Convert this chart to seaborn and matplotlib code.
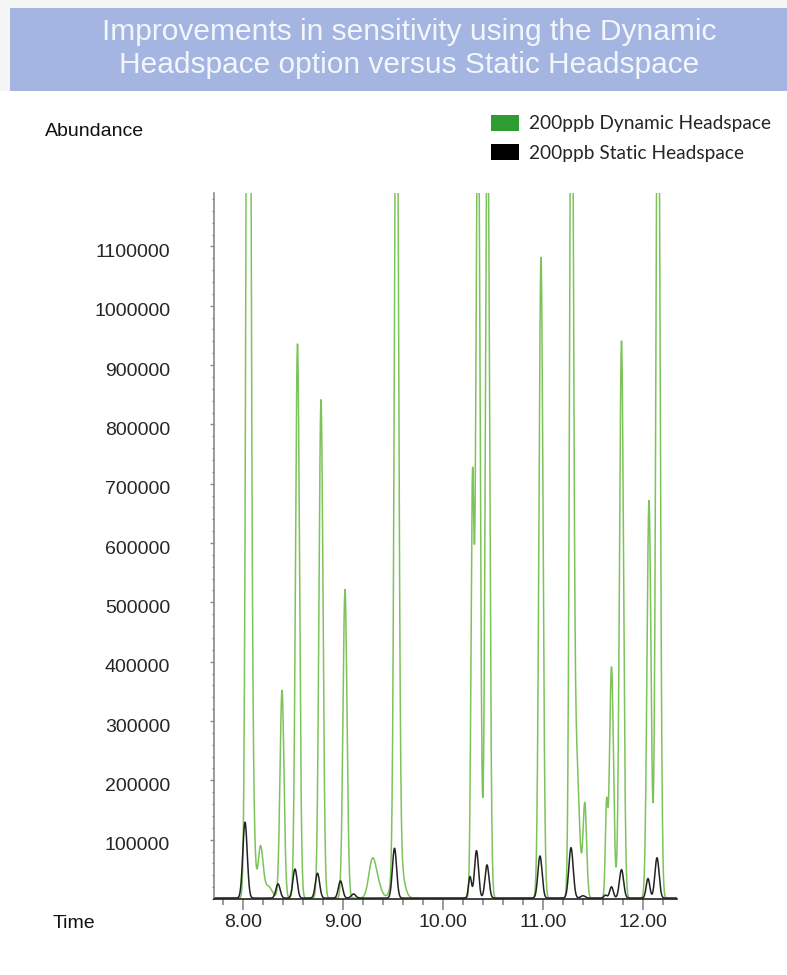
import numpy as np
import pandas as pd
import seaborn as sns
import matplotlib.pyplot as plt
from matplotlib.patches import Patch, Rectangle
from matplotlib.ticker import MultipleLocator, FixedLocator
from matplotlib.transforms import ScaledTranslation

# peak tables: retention time (min), abundance, peak sigma (min)
dyn_rt = [8.055, 8.10, 8.175, 8.25, 8.39, 8.545, 8.78, 9.02, 9.29, 9.34, 9.535, 9.55,
          10.295, 10.35, 10.445, 10.98, 11.285, 11.33, 11.418, 11.635, 11.685, 11.785,
          12.06, 12.15]
dyn_height = [2.4e6, 1.2e5, 8.5e4, 2.0e4, 3.5e5, 9.35e5, 8.4e5, 5.2e5, 5.5e4, 2.5e4, 1.55e6, 8.0e4,
              6.9e5, 1.45e6, 1.4e6, 1.08e6, 1.6e6, 2.5e5, 1.58e5, 1.5e5, 3.9e5, 9.4e5,
              6.7e5, 1.6e6]
dyn_sigma = [0.021, 0.02, 0.025, 0.04, 0.02, 0.02, 0.02, 0.02, 0.035, 0.04, 0.02, 0.045,
             0.015, 0.02, 0.02, 0.02, 0.018, 0.03, 0.018, 0.012, 0.02, 0.02,
             0.02, 0.02]

sta_rt = [8.02, 8.35, 8.52, 8.745, 8.975, 9.105, 9.515, 10.27, 10.335, 10.44, 10.97,
          11.28, 11.40, 11.625, 11.685, 11.785, 12.05, 12.14]
sta_height = [1.28e5, 2.4e4, 4.9e4, 4.2e4, 2.9e4, 7e3, 8.4e4, 3.6e4, 8.0e4, 5.6e4, 7.1e4,
              8.5e4, 4e3, 5e3, 1.9e4, 4.8e4, 3.3e4, 6.8e4]
sta_sigma = [0.022, 0.021, 0.021, 0.021, 0.021, 0.022, 0.021, 0.015, 0.02, 0.02, 0.021,
             0.022, 0.022, 0.016, 0.018, 0.021, 0.018, 0.021]

baseline = 1500
series = ['200ppb Dynamic Headspace', '200ppb Static Headspace']
colors = ['#7cc35a', '#222222']
legend_colors = ['#2e9b33', '#000000']

xticks = [8, 9, 10, 11, 12]
xtick_labels = ['8.00', '9.00', '10.00', '11.00', '12.00']
yticks = [100000, 200000, 300000, 400000, 500000, 600000, 700000, 800000, 900000, 1000000, 1100000]


def trace(t, rts, heights, sigmas):
    y = np.full_like(t, baseline, dtype=float)
    for rt, h, s in zip(rts, heights, sigmas):
        y += h * np.exp(-0.5 * ((t - rt) / s) ** 2)
    return y


t = np.arange(7.72, 12.335, 0.002)
df = pd.concat([
    pd.DataFrame({'time': t, 'abundance': trace(t, dyn_rt, dyn_height, dyn_sigma), 'run': series[0]}),
    pd.DataFrame({'time': t, 'abundance': trace(t, sta_rt, sta_height, sta_sigma), 'run': series[1]}),
])

sns.set_style('white')
plt.rcParams['font.family'] = ['Liberation Sans', 'DejaVu Sans']

fig = plt.figure(figsize=(7.87, 9.75), dpi=100)
W, H = 787, 975
ax = fig.add_axes([214 / W, 1 - 899 / H, (677 - 214) / W, (899 - 193) / H])

sns.lineplot(data=df, x='time', y='abundance', hue='run', hue_order=series,
             palette=dict(zip(series, colors)), estimator=None, sort=False,
             linewidth=1.1, legend=False, ax=ax)

ax.set_xlim(7.71, 12.34)
ax.set_ylim(0, 1.19e6)
ax.set_xlabel('')
ax.set_ylabel('')
for s in ['top', 'right']:
    ax.spines[s].set_visible(False)
ax.spines['left'].set_color('#8a8a8a')
ax.spines['left'].set_linewidth(1.2)
ax.spines['bottom'].set_color('#222222')
ax.spines['bottom'].set_linewidth(1.2)

ax.xaxis.set_major_locator(FixedLocator(xticks))
ax.set_xticklabels(xtick_labels)
ax.xaxis.set_minor_locator(MultipleLocator(0.2))
ax.tick_params(axis='x', which='major', length=8, width=1.2, color='#8a8a8a',
               direction='out', pad=2.5, labelsize=14, bottom=True)
ax.tick_params(axis='x', which='minor', length=4.3, width=1.2, color='#8a8a8a',
               direction='out', bottom=True)

ax.yaxis.set_major_locator(FixedLocator(yticks))
ax.set_yticklabels([str(v) for v in yticks])
ax.yaxis.set_minor_locator(MultipleLocator(20000))
ax.tick_params(axis='y', which='major', length=3, width=1, color='#8a8a8a',
               direction='out', pad=28.5, labelsize=14, left=True)
ax.tick_params(axis='y', which='minor', length=1.5, width=1, color='#8a8a8a',
               direction='out', left=True)
for lab in ax.get_yticklabels():
    lab.set_transform(lab.get_transform() + ScaledTranslation(0, -4 / 100, fig.dpi_scale_trans))

# title banner
fig.patches.append(Rectangle((0, 1 - 91 / H), 1, 91 / H, transform=fig.transFigure,
                             facecolor='#f5f5f5', edgecolor='none', zorder=0))
fig.patches.append(Rectangle((10 / W, 1 - 91 / H), 1, 83 / H, transform=fig.transFigure,
                             facecolor='#a3b5e0', edgecolor='none', zorder=1))
fig.text(409 / W, 1 - 40 / H, 'Improvements in sensitivity using the Dynamic',
         ha='center', va='baseline', fontsize=21.5, color='#f3f6fc', zorder=2)
fig.text(409 / W, 1 - 73 / H, 'Headspace option versus Static Headspace',
         ha='center', va='baseline', fontsize=21.5, color='#f3f6fc', zorder=2)

fig.text(45 / W, 1 - 131 / H, 'Abundance', ha='left', va='center', fontsize=14, color='#111111')
fig.text(53 / W, 1 - 923 / H, 'Time', ha='left', va='center', fontsize=14, color='#111111')

handles = [Patch(facecolor=c, edgecolor='none') for c in legend_colors]
fig.legend(handles=handles, labels=series, loc='upper left',
           bbox_to_anchor=(483 / W, 1 - 107 / H), frameon=False,
           prop={'family': 'Lato', 'size': 13.8}, handlelength=1.5, handleheight=0.9,
           handletextpad=0.52, labelspacing=0.62, borderaxespad=0)

fig.savefig('out.png', dpi=100)
